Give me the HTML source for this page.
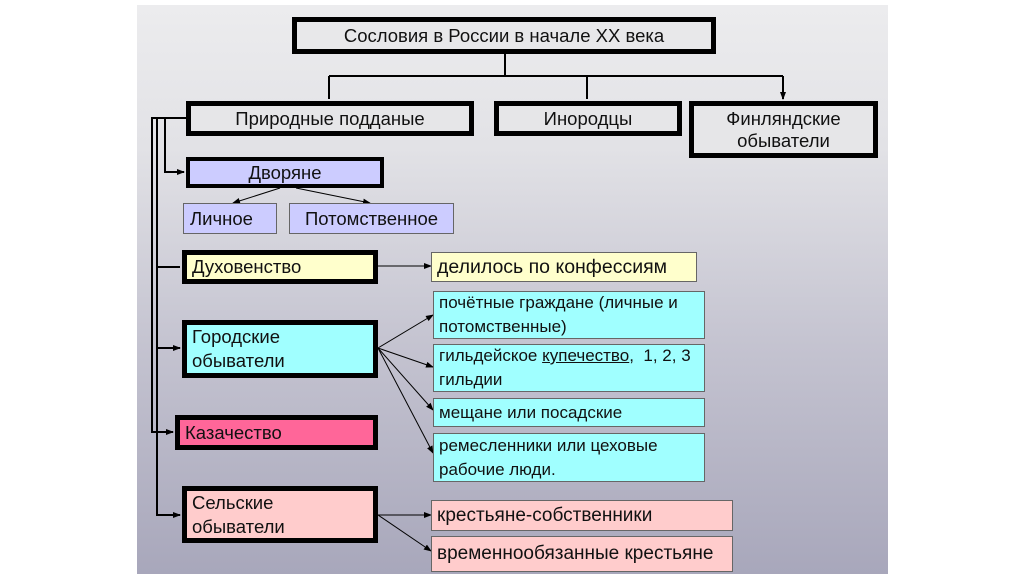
<!DOCTYPE html>
<html><head><meta charset="utf-8"><style>
body{margin:0;width:1024px;height:574px;background:#fff;position:relative;overflow:hidden;font-family:"Liberation Sans","DejaVu Sans",sans-serif;}
#slide{position:absolute;left:137px;top:5px;width:751px;height:569px;background:linear-gradient(#ececee 0%,#e2e2e6 25%,#c4c3d0 60%,#a8a7bb 100%);}
.b{position:absolute;box-sizing:border-box;border:5px solid #000;color:#111;font-size:18.5px;display:flex;align-items:center;white-space:nowrap;}
.c{justify-content:center;text-align:center;}
.t{position:absolute;box-sizing:border-box;border:1px solid #666;color:#111;font-size:17px;display:flex;align-items:center;padding-left:5px;line-height:24px;white-space:nowrap;}
.l{padding-left:5px;line-height:24px;}
svg{position:absolute;left:0;top:0;}
</style></head><body>
<div id="slide"></div>
<svg width="1024" height="574">
<defs><marker id="a" markerWidth="8" markerHeight="8" refX="7" refY="4" orient="auto" markerUnits="userSpaceOnUse"><path d="M0,1 L8,4 L0,7z" fill="#000"/></marker></defs>
<g stroke="#000" stroke-width="2" fill="none">
<path d="M505,53V76M329,76H783"/>
<path d="M329,76V99M587,76V99M783,76V99" marker-end="url(#a)"/>
<path d="M186,118H152V432H173" marker-end="url(#a)"/>
<path d="M157,118V515H180" marker-end="url(#a)"/>
<path d="M165,118V172H184" marker-end="url(#a)"/>
<path d="M157,267H180M157,348H180" marker-end="url(#a)"/>
</g>
<g stroke="#000" stroke-width="1" fill="none" marker-end="url(#a)">
<path d="M280,188L233,203"/><path d="M296,188L370,203"/>
<path d="M378,266H431"/>
<path d="M378,348L433,315"/><path d="M378,348L433,367"/><path d="M378,348L433,410"/><path d="M378,348L433,453"/>
<path d="M378,515H431"/><path d="M378,515L431,551"/>
</g>
</svg>
<div class="b c" style="left:292px;top:17px;width:424px;height:37px;background:#e8e8ea">Сословия в России в начале ХХ века</div>
<div class="b c" style="left:186px;top:101px;width:288px;height:35px;background:#e6e6e8">Природные подданые</div>
<div class="b c" style="left:494px;top:101px;width:188px;height:35px;background:#e6e6e8">Инородцы</div>
<div class="b c" style="left:689px;top:101px;width:189px;height:57px;background:#e6e6e8;line-height:22px">Финляндские<br>обыватели</div>
<div class="b c" style="left:186px;top:157px;width:198px;height:31px;border-width:4px;background:#ccccff">Дворяне</div>
<div class="t" style="left:183px;top:203px;width:94px;height:31px;background:#ccccff;font-size:18.5px;padding-left:6px">Личное</div>
<div class="t" style="left:289px;top:203px;width:165px;height:31px;background:#ccccff;font-size:18.5px;justify-content:center;padding:0">Потомственное</div>
<div class="b l" style="left:182px;top:250px;width:196px;height:34px;background:#ffffcc">Духовенство</div>
<div class="t" style="left:431px;top:252px;width:266px;height:30px;background:#ffffcc;font-size:19.5px">делилось по конфессиям</div>
<div class="b l" style="left:182px;top:320px;width:196px;height:58px;background:#a0ffff">Городские<br>обыватели</div>
<div class="t" style="left:433px;top:291px;width:272px;height:48px;background:#a0ffff">почётные граждане (личные и<br>потомственные)</div>
<div class="t" style="left:433px;top:344px;width:272px;height:48px;background:#a0ffff"><span>гильдейское <u>купечество</u>,&nbsp; 1, 2, 3<br>гильдии</span></div>
<div class="t" style="left:433px;top:398px;width:272px;height:29px;background:#a0ffff">мещане или посадские</div>
<div class="t" style="left:433px;top:433px;width:272px;height:49px;background:#a0ffff">ремесленники или цеховые<br>рабочие люди.</div>
<div class="b l" style="left:175px;top:415px;width:203px;height:35px;background:#ff6699">Казачество</div>
<div class="b l" style="left:182px;top:486px;width:196px;height:57px;background:#ffcccc">Сельские<br>обыватели</div>
<div class="t" style="left:431px;top:500px;width:302px;height:31px;background:#ffcccc;font-size:19px">крестьяне-собственники</div>
<div class="t" style="left:431px;top:536px;width:302px;height:36px;background:#ffcccc;font-size:19px">временнообязанные крестьяне</div>
</body></html>
